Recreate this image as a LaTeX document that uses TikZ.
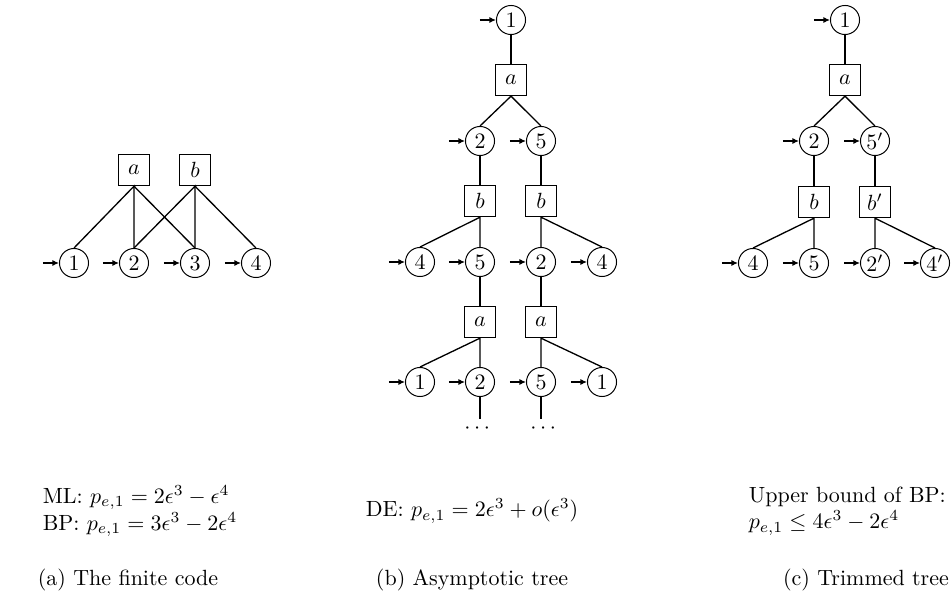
\documentclass[tikz,border=0pt]{standalone}
\usepackage{amsmath}
\usepackage{amssymb}
\usepackage{tikz}
\usetikzlibrary{arrows.meta}
\usetikzlibrary{positioning}

\begin{document}
\begin{tikzpicture}[x=0.4545pt,y=-0.4545pt,
        var/.style={circle,draw,line width=0.45pt,inner sep=0pt,minimum size=13.2pt},
        chk/.style={rectangle,draw,line width=0.7pt,inner sep=0pt,minimum width=14.2pt,minimum height=14pt},
        feed/.style={-{Latex[length=3pt,width=2.8pt]},line width=0.6pt},
        edge line/.style={line width=0.6pt}]
        \useasboundingbox (0,0) rectangle (951,594);

        % (a) the finite code
        \node [chk] (ca) at (134,170) {$a$};
        \node [chk] (cb) at (195,170) {$b$};
        \node [var] (a1) at (74,263) {$1$};
        \node [var] (a2) at (134,263) {$2$};
        \node [var] (a3) at (195,263) {$3$};
        \node [var] (a4) at (256,263) {$4$};

        \draw [edge line] (a1.north) -- (ca.south) -- (a2.north);
        \draw [edge line] (ca.south) -- (a3.north);
        \draw [edge line] (a2.north) -- (cb.south) -- (a3.north);
        \draw [edge line] (cb.south) -- (a4.north);

        % (b) asymptotic tree
        \node [var] (b1) at (511,20) {$1$};
        \node [chk] (ba) at (511,80) {$a$};
        \node [var] (b2) at (480,141) {$2$};
        \node [var] (b5) at (541,141) {$5$};
        \node [chk] (bbl) at (480,201) {$b$};
        \node [chk] (bbr) at (541,201) {$b$};
        \node [var] (b4l) at (420,262) {$4$};
        \node [var] (b5l) at (480,262) {$5$};
        \node [var] (b2r) at (541,262) {$2$};
        \node [var] (b4r) at (602,262) {$4$};
        \node [chk] (bal) at (480,322) {$a$};
        \node [chk] (bar) at (541,322) {$a$};
        \node [var] (b1l) at (420,382) {$1$};
        \node [var] (b2l) at (480,382) {$2$};
        \node [var] (b5r) at (541,382) {$5$};
        \node [var] (b1r) at (602,382) {$1$};
        \coordinate (endl) at (480,419);
        \coordinate (endr) at (541,419);

        \draw [edge line] (b1.south) -- (ba.north);
        \draw [edge line] (b2.north) -- (ba.south) -- (b5.north);
        \draw [edge line] (b2.south) -- (bbl.north);
        \draw [edge line] (b5.south) -- (bbr.north);
        \draw [edge line] (b4l.north) -- (bbl.south) -- (b5l.north);
        \draw [edge line] (b2r.north) -- (bbr.south) -- (b4r.north);
        \draw [edge line] (b5l.south) -- (bal.north);
        \draw [edge line] (b2r.south) -- (bar.north);
        \draw [edge line] (b1l.north) -- (bal.south) -- (b2l.north);
        \draw [edge line] (b5r.north) -- (bar.south) -- (b1r.north);
        \draw [edge line] (b2l.south) -- (endl);
        \draw [edge line] (b5r.south) -- (endr);
        \node (dotsl) at (479,429) {$\cdots$};
        \node (dotsr) at (545,429) {$\cdots$};

        % (c) trimmed tree
        \node [var] (c1) at (845,20) {$1$};
        \node [chk] (cca) at (845,80) {$a$};
        \node [var] (c2) at (814,141) {$2$};
        \node [var] (c5) at (875,141) {$5'$};
        \node [chk] (ccb) at (814,202) {$b$};
        \node [chk] (ccbp) at (875,202) {$b'$};
        \node [var] (c4) at (753,263) {$4$};
        \node [var] (c5b) at (814,263) {$5$};
        \node [var] (c2p) at (875,263) {$2'$};
        \node [var] (c4p) at (935,263) {$4'$};

        \draw [edge line] (c1.south) -- (cca.north);
        \draw [edge line] (c2.north) -- (cca.south) -- (c5.north);
        \draw [edge line] (c2.south) -- (ccb.north);
        \draw [edge line] (c5.south) -- (ccbp.north);
        \draw [edge line] (c4.north) -- (ccb.south) -- (c5b.north);
        \draw [edge line] (c2p.north) -- (ccbp.south) -- (c4p.north);

        % incoming arrows
        \foreach \v in {a1,a2,a3,a4,b1,b2,b5,b4l,b5l,b2r,b4r,b1l,b2l,b5r,b1r,c1,c2,c5,c4,c5b,c2p,c4p}
            \draw [feed] (\v.west) ++(-16,0) -- (\v.west);

        % texts
        \node [anchor=west,align=left] (mlbp) at (35,511) {ML: $p_{e,1}=2\epsilon^3-\epsilon^4$\\BP: $p_{e,1}=3\epsilon^3-2\epsilon^4$};
        \node (de) at (472,511) {DE: $p_{e,1}=2\epsilon^3+o(\epsilon^3)$};
        \node [anchor=west,align=left] (ub) at (741,511) {Upper bound of BP:\\$p_{e,1}\le 4\epsilon^3-2\epsilon^4$};

        \node (capa) at (128,580) {(a) The finite code};
        \node (capb) at (472,580) {(b) Asymptotic tree};
        \node (capc) at (866,580) {(c) Trimmed tree};
    \end{tikzpicture}
\end{document}
